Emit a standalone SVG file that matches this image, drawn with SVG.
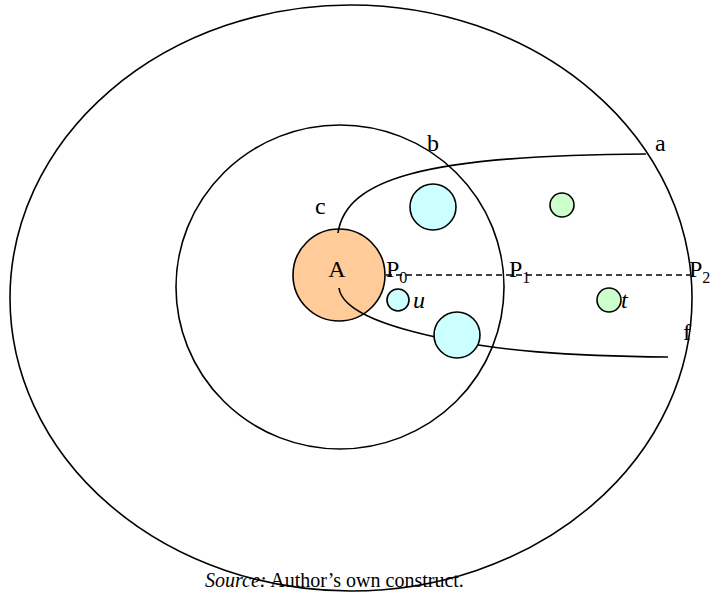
<svg xmlns="http://www.w3.org/2000/svg" width="713" height="597" viewBox="0 0 713 597">
<style>
.ln{fill:none;stroke:#000;stroke-width:1.6}
.lbl{font-family:"Liberation Serif","Times New Roman",serif;font-size:24px;fill:#000}
.sub{font-size:16px}
.it{font-style:italic}
.blue{fill:#ccffff;stroke:#000;stroke-width:1.6}
.green{fill:#ccffcc;stroke:#000;stroke-width:1.6}
</style>
<rect width="713" height="597" fill="#fff"/>
<g id="outer"><ellipse class="ln" cx="351" cy="298" rx="341" ry="293"/></g>
<g id="inner"><ellipse class="ln" cx="340" cy="287" rx="164" ry="162"/></g>
<g id="nodeA"><circle cx="339" cy="275" r="46" fill="#ffcc99" stroke="#000" stroke-width="1.6"/>
<text class="lbl" x="337" y="277" text-anchor="middle">A</text></g>
<g id="connectors">
<path class="ln" d="M338,233 C346,180 420,155 646,154"/>
<path class="ln" d="M339,288 C342,312 390,328 450,340 C500,350 560,356 668,357"/>
<line x1="386" y1="275" x2="690" y2="275" stroke="#000" stroke-width="1.5" stroke-dasharray="6,4"/>
</g>
<g id="blue1"><circle class="blue" cx="433" cy="207" r="23"/></g>
<g id="blue2"><circle class="blue" cx="457" cy="335" r="23"/></g>
<g id="u"><circle class="blue" cx="398" cy="300" r="11"/><text class="lbl it" x="413" y="308">u</text></g>
<g id="green1"><circle class="green" cx="562" cy="205" r="12"/></g>
<g id="t"><circle class="green" cx="609" cy="300" r="12"/><text class="lbl it" x="621" y="308">t</text></g>
<g id="labels">
<text class="lbl" x="655" y="151">a</text>
<text class="lbl" x="427" y="151">b</text>
<text class="lbl" x="315" y="214">c</text>
<text class="lbl" x="683" y="340">f</text>
<text class="lbl" x="386" y="277">P<tspan class="sub" dy="6">0</tspan></text>
<text class="lbl" x="509" y="277">P<tspan class="sub" dy="6">1</tspan></text>
<text class="lbl" x="689" y="277">P<tspan class="sub" dy="6">2</tspan></text>
</g>
<text x="205" y="587" font-family="Liberation Serif,'Times New Roman',serif" font-size="20"><tspan font-style="italic">Source:</tspan> Author’s own construct.</text>
</svg>
